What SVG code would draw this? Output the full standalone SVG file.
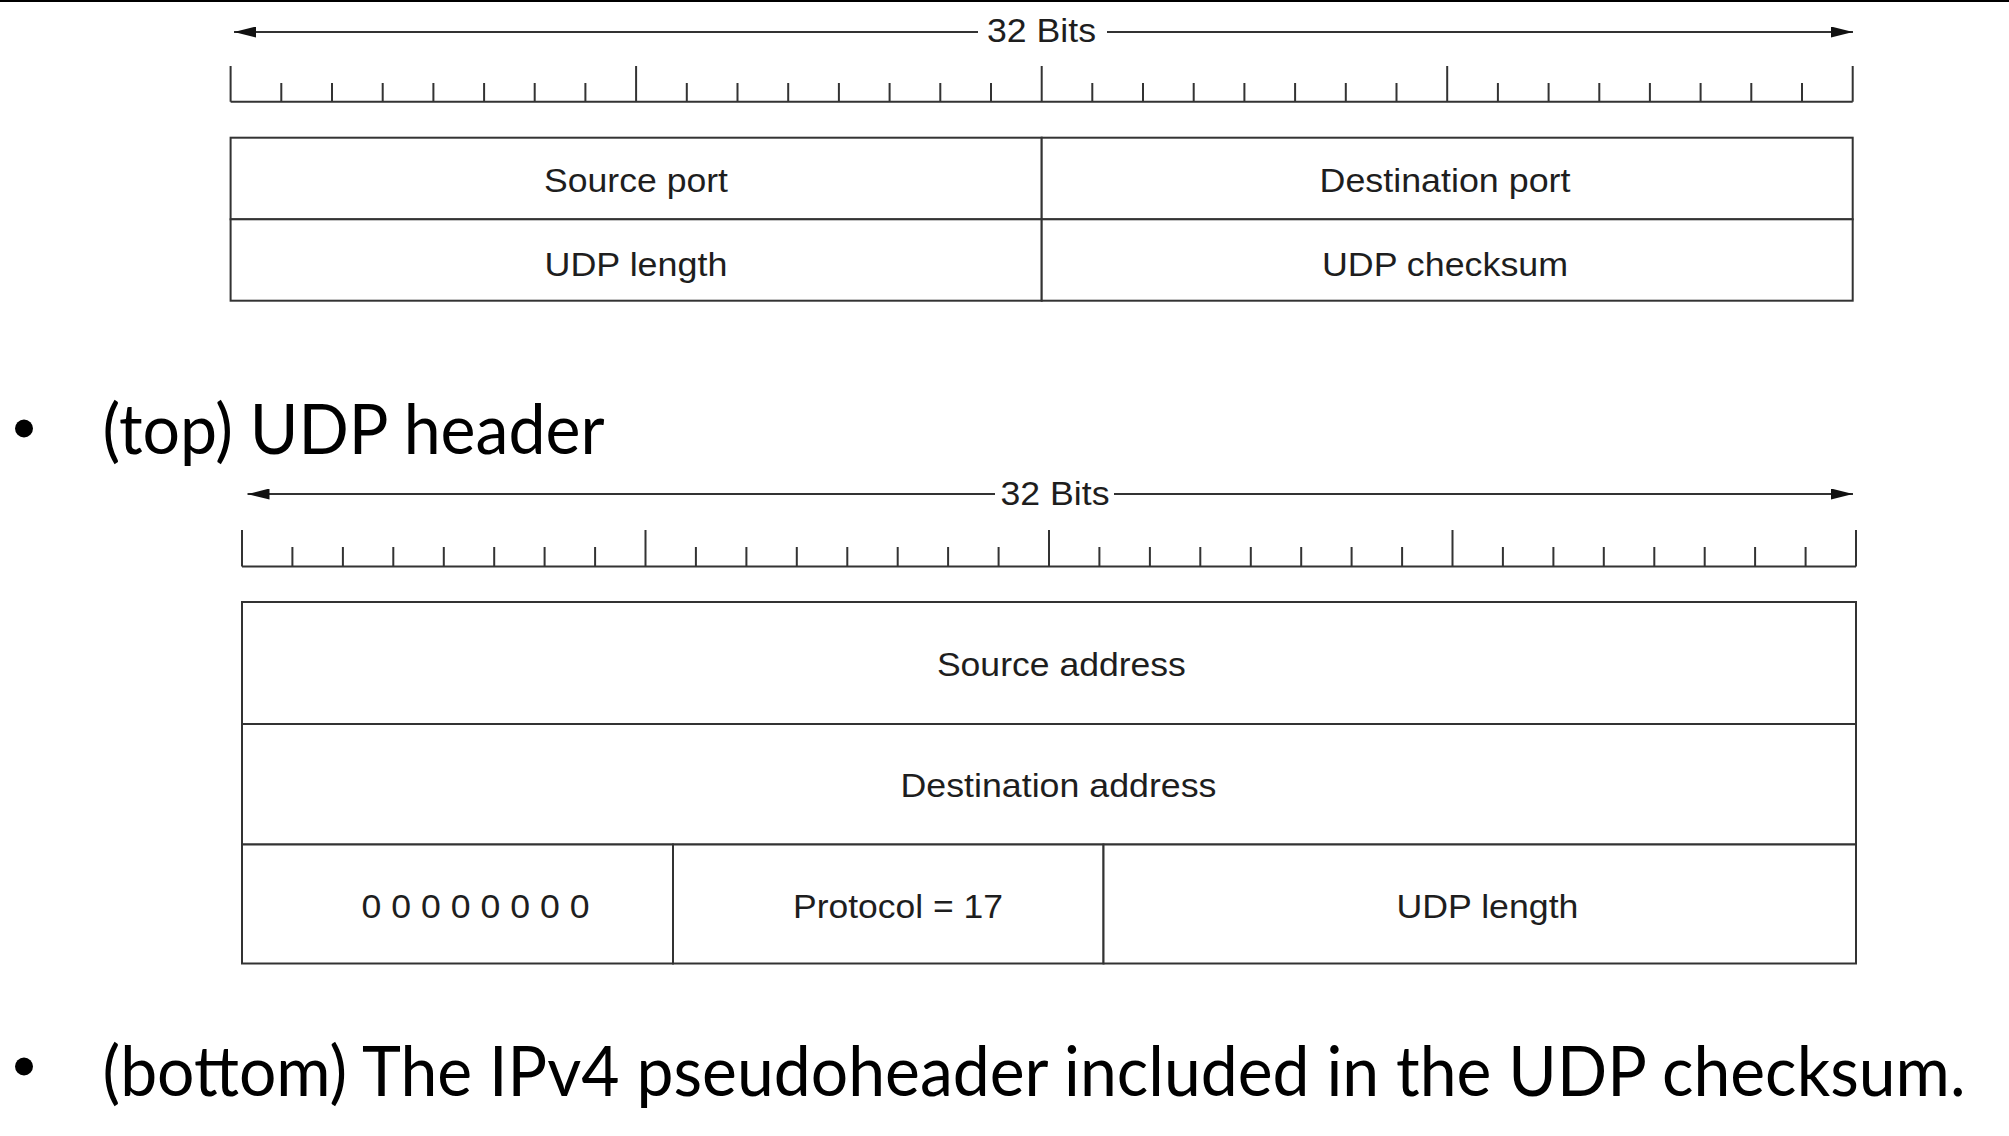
<svg xmlns="http://www.w3.org/2000/svg" width="2009" height="1136" viewBox="0 0 2009 1136">
<style>
  .ln { stroke: #333; stroke-width: 2; fill: none; }
  .box { stroke: #333; stroke-width: 2; fill: #fff; }
  .lbl { font-family: "Liberation Sans", Arial, sans-serif; font-size: 32.5px; fill: #1e1e1e; text-anchor: middle; }
  .bul { font-family: Lato, "Open Sans", sans-serif; font-size: 64px; fill: #000; }
</style>
<defs>
  <marker id="ah" markerUnits="userSpaceOnUse" markerWidth="22" markerHeight="11" refX="22" refY="5.5" orient="auto">
    <path d="M0,0 L22,5.5 L0,11 z" fill="#111"/>
  </marker>
</defs>
<rect x="0" y="0" width="2009" height="1136" fill="#fff"/>
<line x1="0" y1="1" x2="2009" y2="1" stroke="#000" stroke-width="2"/>

<!-- connectors: dimension arrows -->
<g id="connectors">
  <line class="ln" x1="978" y1="32" x2="234" y2="32" marker-end="url(#ah)"/>
  <line class="ln" x1="1107" y1="32" x2="1853" y2="32" marker-end="url(#ah)"/>
  <line class="ln" x1="995" y1="494" x2="247.5" y2="494" marker-end="url(#ah)"/>
  <line class="ln" x1="1114" y1="494" x2="1853" y2="494" marker-end="url(#ah)"/>
</g>

<!-- top: UDP header -->
<g id="top-bits-label">
  <text class="lbl" x="1041.5" y="42.3" textLength="109" lengthAdjust="spacingAndGlyphs">32 Bits</text>
</g>
<g id="top-ruler">
  <path class="ln" d="M230.6,101.7 H1852.7
    M230.6,66 V101.7 M636.1,66 V101.7 M1041.7,66 V101.7 M1447.2,66 V101.7 M1852.7,66 V101.7
    M281.3,83 V101.7 M332,83 V101.7 M382.7,83 V101.7 M433.4,83 V101.7 M484.1,83 V101.7 M534.7,83 V101.7 M585.4,83 V101.7
    M686.8,83 V101.7 M737.5,83 V101.7 M788.2,83 V101.7 M838.9,83 V101.7 M889.6,83 V101.7 M940.3,83 V101.7 M991,83 V101.7
    M1092.3,83 V101.7 M1143,83 V101.7 M1193.7,83 V101.7 M1244.4,83 V101.7 M1295.1,83 V101.7 M1345.8,83 V101.7 M1396.5,83 V101.7
    M1497.9,83 V101.7 M1548.6,83 V101.7 M1599.3,83 V101.7 M1649.9,83 V101.7 M1700.6,83 V101.7 M1751.3,83 V101.7 M1802,83 V101.7"/>
</g>
<g id="source-port">
  <rect class="box" x="230.6" y="137.7" width="811.1" height="81.6"/>
  <text class="lbl" x="636" y="191.5" textLength="184" lengthAdjust="spacingAndGlyphs">Source port</text>
</g>
<g id="destination-port">
  <rect class="box" x="1041.7" y="137.7" width="811" height="81.6"/>
  <text class="lbl" x="1445" y="191.5" textLength="251" lengthAdjust="spacingAndGlyphs">Destination port</text>
</g>
<g id="udp-length-top">
  <rect class="box" x="230.6" y="219.3" width="811.1" height="81.4"/>
  <text class="lbl" x="636" y="276" textLength="183" lengthAdjust="spacingAndGlyphs">UDP length</text>
</g>
<g id="udp-checksum">
  <rect class="box" x="1041.7" y="219.3" width="811" height="81.4"/>
  <text class="lbl" x="1445" y="276" textLength="246" lengthAdjust="spacingAndGlyphs">UDP checksum</text>
</g>

<g id="bullet-top">
  <circle cx="24" cy="428.5" r="9" fill="#000"/>
  <text class="bul" transform="translate(102.5,454) scale(1,1.08)" x="0" y="0" textLength="502" lengthAdjust="spacingAndGlyphs">(top) UDP header</text>
</g>

<!-- bottom: IPv4 pseudoheader -->
<g id="bottom-bits-label">
  <text class="lbl" x="1055" y="505" textLength="109" lengthAdjust="spacingAndGlyphs">32 Bits</text>
</g>
<g id="bottom-ruler">
  <path class="ln" d="M242,566.5 H1856
    M242,530 V566.5 M645.5,530 V566.5 M1049,530 V566.5 M1452.5,530 V566.5 M1856,530 V566.5
    M292.4,547 V566.5 M342.9,547 V566.5 M393.3,547 V566.5 M443.8,547 V566.5 M494.2,547 V566.5 M544.6,547 V566.5 M595.1,547 V566.5
    M695.9,547 V566.5 M746.4,547 V566.5 M796.8,547 V566.5 M847.3,547 V566.5 M897.7,547 V566.5 M948.1,547 V566.5 M998.6,547 V566.5
    M1099.4,547 V566.5 M1149.9,547 V566.5 M1200.3,547 V566.5 M1250.8,547 V566.5 M1301.2,547 V566.5 M1351.6,547 V566.5 M1402.1,547 V566.5
    M1502.9,547 V566.5 M1553.4,547 V566.5 M1603.8,547 V566.5 M1654.3,547 V566.5 M1704.7,547 V566.5 M1755.1,547 V566.5 M1805.6,547 V566.5"/>
</g>
<g id="source-address">
  <rect class="box" x="242" y="602" width="1614" height="122"/>
  <text class="lbl" x="1061.4" y="676" textLength="249" lengthAdjust="spacingAndGlyphs">Source address</text>
</g>
<g id="destination-address">
  <rect class="box" x="242" y="724" width="1614" height="120.5"/>
  <text class="lbl" x="1058.5" y="796.7" textLength="316" lengthAdjust="spacingAndGlyphs">Destination address</text>
</g>
<g id="zeros">
  <rect class="box" x="242" y="844.5" width="431" height="119"/>
  <text class="lbl" x="475.5" y="918.3" textLength="228" lengthAdjust="spacingAndGlyphs">0 0 0 0 0 0 0 0</text>
</g>
<g id="protocol">
  <rect class="box" x="673" y="844.5" width="430.5" height="119"/>
  <text class="lbl" x="898" y="918.3" textLength="210" lengthAdjust="spacingAndGlyphs">Protocol = 17</text>
</g>
<g id="udp-length-bottom">
  <rect class="box" x="1103.5" y="844.5" width="752.5" height="119"/>
  <text class="lbl" x="1487.5" y="918.3" textLength="182" lengthAdjust="spacingAndGlyphs">UDP length</text>
</g>

<g id="bullet-bottom">
  <circle cx="24" cy="1066.5" r="9" fill="#000"/>
  <text class="bul" transform="translate(102.5,1096) scale(1,1.08)" x="0" y="0" textLength="1863" lengthAdjust="spacingAndGlyphs">(bottom) The IPv4 pseudoheader included in the UDP checksum.</text>
</g>
</svg>
